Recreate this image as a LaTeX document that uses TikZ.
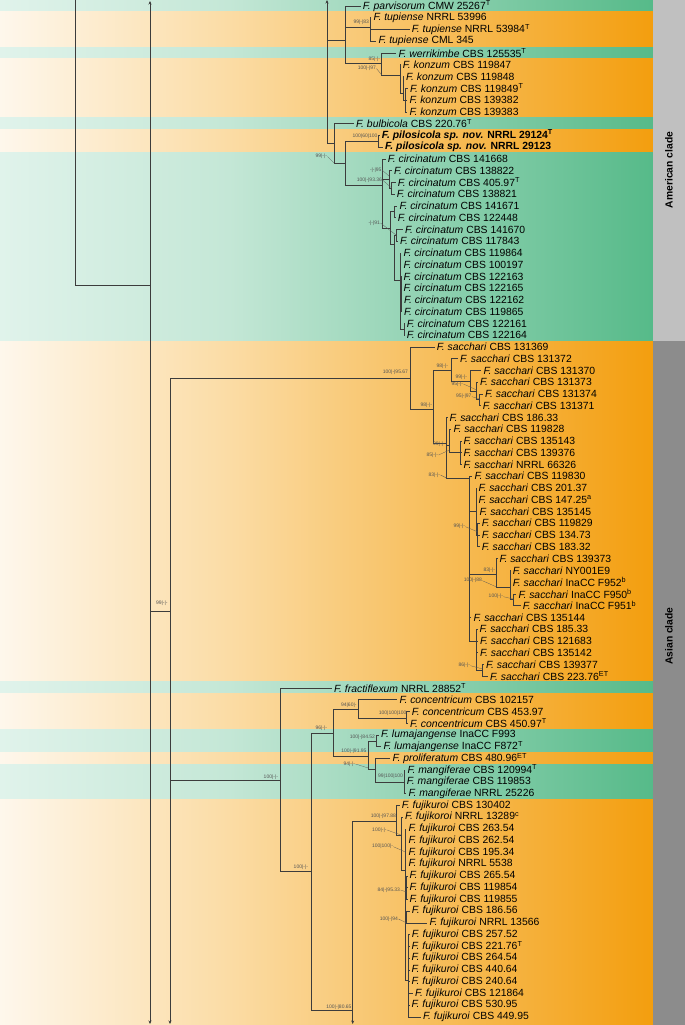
\documentclass[tikz,border=0pt]{standalone}
\usepackage{fontspec}
\setmainfont{Liberation Sans}
\usetikzlibrary{arrows.meta}
\definecolor{gL}{RGB}{224,243,235}
\definecolor{gM}{RGB}{196,231,214}
\definecolor{gR}{RGB}{86,186,137}
\definecolor{oL}{RGB}{254,247,236}
\definecolor{oM}{RGB}{251,220,165}
\definecolor{oR}{RGB}{243,158,14}
\definecolor{brc}{RGB}{60,60,60}
\definecolor{spc}{RGB}{85,85,85}
\definecolor{grA}{RGB}{192,192,192}
\definecolor{grB}{RGB}{140,140,140}
\pgfdeclarehorizontalshading{gsh}{100bp}{color(0bp)=(gL); color(25bp)=(gL); color(42.5bp)=(gM); color(75bp)=(gR); color(100bp)=(gR)}
\pgfdeclarehorizontalshading{osh}{100bp}{color(0bp)=(oL); color(25bp)=(oL); color(42.5bp)=(oM); color(75bp)=(oR); color(100bp)=(oR)}
\newcommand{\Y}[1]{(6+(#1-1)*11.756)}
\newcommand{\Fi}[1]{\textit{F.\ #1}}
\newcommand{\lfn}[3]{\node[lf] (l#1) at ({#2-2},{\Y{#1}}) {#3};}
\newcommand{\kids}[2]{\foreach \kk in {#2}{\draw[br] (#1) |- (\kk);}}
\newcommand{\bs}[4]{\node[sp,anchor=east] (#1) at (#2,#3) {#4};}
\newcommand{\band}[3]{\fill[shading=#1] (0,{\Y{#2}-5.878}) rectangle (653,{\Y{#3}+5.878});}
\tikzset{
 br/.style={draw=brc, line width=0.6pt},
 lf/.style={anchor=west, inner xsep=2pt, inner ysep=0pt, font=\fontsize{10.4}{11}\selectfont, text=black},
 sp/.style={font=\fontsize{5}{6}\selectfont, text=spc, inner sep=0.3pt},
 ldr/.style={draw=spc, line width=0.25pt},
 arr/.style={br, -{Stealth[length=3.5pt,width=3pt]}},
}
\begin{document}
\begin{tikzpicture}[x=1pt,y=-1pt]
\useasboundingbox (0,0) rectangle (685,1025);
% bands
\fill[shading=gsh] (0,0) rectangle (653,{\Y{1}+5.878});
\band{osh}{2}{4}
\band{gsh}{5}{5}
\band{osh}{6}{10}
\band{gsh}{11}{11}
\band{osh}{12}{13}
\band{gsh}{14}{29}
\band{osh}{30}{58}
\band{gsh}{59}{59}
\band{osh}{60}{62}
\band{gsh}{63}{64}
\band{osh}{65}{65}
\band{gsh}{66}{68}
\fill[shading=osh] (0,{\Y{69}-5.878}) rectangle (653,1025);
% clade bars
\fill[grA] (653,0) rectangle (685,340.9);
\fill[grB] (653,341.3) rectangle (685,1025);
\node[rotate=90, font=\bfseries\fontsize{10.3}{12}\selectfont] (am) at (669,170) {American clade};
\node[rotate=90, font=\bfseries\fontsize{10.3}{12}\selectfont] (as) at (669,636) {Asian clade};
% leaves
\lfn{1}{362.7}{\Fi{parvisorum} CMW 25267\textsuperscript{T}}
\lfn{2}{373.3}{\Fi{tupiense} NRRL 53996}
\lfn{3}{411.7}{\Fi{tupiense} NRRL 53984\textsuperscript{T}}
\lfn{4}{378.3}{\Fi{tupiense} CML 345}
\lfn{5}{398.3}{\Fi{werrikimbe} CBS 125535\textsuperscript{T}}
\lfn{6}{402.7}{\Fi{konzum} CBS 119847}
\lfn{7}{406}{\Fi{konzum} CBS 119848}
\lfn{8}{410}{\Fi{konzum} CBS 119849\textsuperscript{T}}
\lfn{9}{409.3}{\Fi{konzum} CBS 139382}
\lfn{10}{409.3}{\Fi{konzum} CBS 139383}
\lfn{11}{356}{\Fi{bulbicola} CBS 220.76\textsuperscript{T}}
\lfn{12}{381.7}{\textbf{\Fi{pilosicola sp. nov.} NRRL 29124\textsuperscript{T}}}
\lfn{13}{385}{\textbf{\Fi{pilosicola sp. nov.} NRRL 29123}}
\lfn{14}{387.7}{\Fi{circinatum} CBS 141668}
\lfn{15}{394}{\Fi{circinatum} CBS 138822}
\lfn{16}{397.7}{\Fi{circinatum} CBS 405.97\textsuperscript{T}}
\lfn{17}{396.7}{\Fi{circinatum} CBS 138821}
\lfn{18}{399.3}{\Fi{circinatum} CBS 141671}
\lfn{19}{397.7}{\Fi{circinatum} CBS 122448}
\lfn{20}{405}{\Fi{circinatum} CBS 141670}
\lfn{21}{400}{\Fi{circinatum} CBS 117843}
\lfn{22}{403.3}{\Fi{circinatum} CBS 119864}
\lfn{23}{403.3}{\Fi{circinatum} CBS 100197}
\lfn{24}{403.3}{\Fi{circinatum} CBS 122163}
\lfn{25}{403.3}{\Fi{circinatum} CBS 122165}
\lfn{26}{404}{\Fi{circinatum} CBS 122162}
\lfn{27}{404}{\Fi{circinatum} CBS 119865}
\lfn{28}{406.7}{\Fi{circinatum} CBS 122161}
\lfn{29}{406.7}{\Fi{circinatum} CBS 122164}
\lfn{30}{436.7}{\Fi{sacchari} CBS 131369}
\lfn{31}{460}{\Fi{sacchari} CBS 131372}
\lfn{32}{483.3}{\Fi{sacchari} CBS 131370}
\lfn{33}{480}{\Fi{sacchari} CBS 131373}
\lfn{34}{485}{\Fi{sacchari} CBS 131374}
\lfn{35}{482.7}{\Fi{sacchari} CBS 131371}
\lfn{36}{449.3}{\Fi{sacchari} CBS 186.33}
\lfn{37}{453.3}{\Fi{sacchari} CBS 119828}
\lfn{38}{463.3}{\Fi{sacchari} CBS 135143}
\lfn{39}{463.3}{\Fi{sacchari} CBS 139376}
\lfn{40}{463.3}{\Fi{sacchari} NRRL 66326}
\lfn{41}{474.3}{\Fi{sacchari} CBS 119830}
\lfn{42}{478.3}{\Fi{sacchari} CBS 201.37}
\lfn{43}{478.3}{\Fi{sacchari} CBS 147.25\textsuperscript{a}}
\lfn{44}{479.3}{\Fi{sacchari} CBS 135145}
\lfn{45}{481.7}{\Fi{sacchari} CBS 119829}
\lfn{46}{481.7}{\Fi{sacchari} CBS 134.73}
\lfn{47}{481.7}{\Fi{sacchari} CBS 183.32}
\lfn{48}{499.3}{\Fi{sacchari} CBS 139373}
\lfn{49}{512.7}{\Fi{sacchari} NY001E9}
\lfn{50}{512.7}{\Fi{sacchari} InaCC F952\textsuperscript{b}}
\lfn{51}{518.3}{\Fi{sacchari} InaCC F950\textsuperscript{b}}
\lfn{52}{522.7}{\Fi{sacchari} InaCC F951\textsuperscript{b}}
\lfn{53}{473.3}{\Fi{sacchari} CBS 135144}
\lfn{54}{479.3}{\Fi{sacchari} CBS 185.33}
\lfn{55}{480}{\Fi{sacchari} CBS 121683}
\lfn{56}{480}{\Fi{sacchari} CBS 135142}
\lfn{57}{486}{\Fi{sacchari} CBS 139377}
\lfn{58}{490}{\Fi{sacchari} CBS 223.76\textsuperscript{ET}}
\lfn{59}{334}{\Fi{fractiflexum} NRRL 28852\textsuperscript{T}}
\lfn{60}{399.3}{\Fi{concentricum} CBS 102157}
\lfn{61}{411.7}{\Fi{concentricum} CBS 453.97}
\lfn{62}{410}{\Fi{concentricum} CBS 450.97\textsuperscript{T}}
\lfn{63}{381}{\Fi{lumajangense} InaCC F993}
\lfn{64}{383.3}{\Fi{lumajangense} InaCC F872\textsuperscript{T}}
\lfn{65}{392.3}{\Fi{proliferatum} CBS 480.96\textsuperscript{ET}}
\lfn{66}{407.3}{\Fi{mangiferae} CBS 120994\textsuperscript{T}}
\lfn{67}{406.7}{\Fi{mangiferae} CBS 119853}
\lfn{68}{408.3}{\Fi{mangiferae} NRRL 25226}
\lfn{69}{401.7}{\Fi{fujikuroi} CBS 130402}
\lfn{70}{405}{\Fi{fujikoroi} NRRL 13289\textsuperscript{c}}
\lfn{71}{408.3}{\Fi{fujikuroi} CBS 263.54}
\lfn{72}{408.3}{\Fi{fujikuroi} CBS 262.54}
\lfn{73}{408.3}{\Fi{fujikuroi} CBS 195.34}
\lfn{74}{408.3}{\Fi{fujikuroi} NRRL 5538}
\lfn{75}{409.3}{\Fi{fujikuroi} CBS 265.54}
\lfn{76}{409.3}{\Fi{fujikuroi} CBS 119854}
\lfn{77}{409.3}{\Fi{fujikuroi} CBS 119855}
\lfn{78}{411.7}{\Fi{fujikuroi} CBS 186.56}
\lfn{79}{429.3}{\Fi{fujikuroi} NRRL 13566}
\lfn{80}{411.7}{\Fi{fujikuroi} CBS 257.52}
\lfn{81}{411.5}{\Fi{fujikuroi} CBS 221.76\textsuperscript{T}}
\lfn{82}{411.5}{\Fi{fujikuroi} CBS 264.54}
\lfn{83}{411.5}{\Fi{fujikuroi} CBS 440.64}
\lfn{84}{411.5}{\Fi{fujikuroi} CBS 240.64}
\lfn{85}{415}{\Fi{fujikuroi} CBS 121864}
\lfn{86}{411.5}{\Fi{fujikuroi} CBS 530.95}
\lfn{87}{422.9}{\Fi{fujikuroi} CBS 449.95}
% internal nodes
\coordinate (nAt) at (327,0); \coordinate (nAm) at (327,40); \coordinate (nA) at (327,143);
\coordinate (nB) at (345,40); \coordinate (nT) at (370,27); \coordinate (nC) at (381.7,63.3);
\coordinate (nD) at (400,75); \coordinate (nD2) at (403.3,93); \coordinate (nD3) at (405.7,100);
\coordinate (nG) at (334.3,143); \coordinate (nE) at (345,163); \coordinate (nP) at (378.3,141);
\coordinate (nF) at (382.7,185); \coordinate (nF2) at (389,179); \coordinate (nF3) at (391.7,188);
\coordinate (nH) at (390,228); \coordinate (nH1) at (394.3,211.7); \coordinate (nH2) at (394.3,244);
\coordinate (nH3) at (396.7,235); \coordinate (nH4) at (400,280); \coordinate (nH5) at (401,294);
\coordinate (nH6) at (404,329);
\coordinate (v75t) at (75,0); \coordinate (v150a) at (150,285);
\coordinate (v150t) at (150,1); \coordinate (v150m) at (150,611); \coordinate (v150b) at (150,1024);
\coordinate (nK) at (170,611); \coordinate (nKb) at (170,1024);
\coordinate (nSac) at (410,378.3); \coordinate (nSa1) at (433.3,409); \coordinate (nSa2) at (451.7,370);
\coordinate (nSa3) at (470,381); \coordinate (nSa4) at (476.7,391); \coordinate (nSa5) at (479.5,399.2);
\coordinate (nSaB) at (446.5,443); \coordinate (nSaC) at (449.5,445); \coordinate (nSaD) at (460.7,452.5);
\coordinate (nSaE) at (469.3,478); \coordinate (nSaG) at (476,511); \coordinate (nSaH) at (477.3,535);
\coordinate (nSaI) at (496.7,574); \coordinate (nSaJ) at (510,587); \coordinate (nSaK) at (513.3,599);
\coordinate (nSaL) at (476.5,641.7); \coordinate (nSaM) at (482.7,670);
\coordinate (nS) at (280,780); \coordinate (nR) at (311,871.7); \coordinate (nQ) at (333.3,733.3);
\coordinate (nCo) at (358.3,709.3); \coordinate (nCo2) at (406,718.3); \coordinate (nLu) at (368.3,756);
\coordinate (nLu2) at (376,741.7); \coordinate (nPM) at (375.7,769); \coordinate (nMa) at (404,782);
\coordinate (nFu) at (352.7,1010); \coordinate (nFub) at (352.7,1024); \coordinate (nFu1) at (396.7,821);
\coordinate (nFu2) at (401,835); \coordinate (nFu3) at (405.3,870); \coordinate (nFu5) at (406.5,892);
\coordinate (nFu6) at (406.7,917); \coordinate (nFu4) at (408.5,980);
% connectors
\draw[arr] (nAm) -- (nAt);
\kids{nA}{nB,nG}
\kids{nB}{l1.west,nT,nC}
\kids{nT}{l2.west,l3.west,l4.west}
\kids{nC}{l5.west,nD}
\kids{nD}{l6.west,nD2}
\kids{nD2}{l7.west,nD3}
\kids{nD3}{l8.west,l9.west,l10.west}
\kids{nG}{l11.west,nE}
\kids{nE}{nP,nF}
\kids{nP}{l12.west,l13.west}
\kids{nF}{l14.west,nF2,nH}
\kids{nF2}{l15.west,nF3}
\kids{nF3}{l16.west,l17.west}
\kids{nH}{nH1,nH2}
\kids{nH1}{l18.west,l19.west}
\kids{nH2}{nH3,nH4}
\kids{nH3}{l20.west,l21.west}
\kids{nH4}{l22.west,l23.west,nH5,nH6}
\kids{nH5}{l24.west,l25.west,l26.west,l27.west}
\kids{nH6}{l28.west,l29.west}
\draw[br] (v75t) |- (v150a);
\draw[arr] (v150m) -- (v150t);
\draw[arr] (v150m) -- (v150b);
\draw[br] (v150m) -- (nK);
\draw[arr] (nK) -- (nKb);
\kids{nK}{nSac,nS}
\kids{nSac}{l30.west,nSa1}
\kids{nSa1}{nSa2,nSaB}
\kids{nSa2}{l31.west,nSa3}
\kids{nSa3}{l32.west,nSa4}
\kids{nSa4}{l33.west,nSa5}
\kids{nSa5}{l34.west,l35.west}
\kids{nSaB}{l36.west,nSaC,nSaE}
\kids{nSaC}{l37.west,nSaD}
\kids{nSaD}{l38.west,l39.west,l40.west}
\kids{nSaE}{l41.west,nSaG,nSaI,l53.west,nSaL}
\kids{nSaG}{l42.west,l43.west,l44.west,nSaH}
\kids{nSaH}{l45.west,l46.west,l47.west}
\kids{nSaI}{l48.west,nSaJ}
\kids{nSaJ}{l49.west,l50.west,nSaK}
\kids{nSaK}{l51.west,l52.west}
\kids{nSaL}{l54.west,l55.west,l56.west,nSaM}
\kids{nSaM}{l57.west,l58.west}
\kids{nS}{l59.west,nR}
\kids{nR}{nQ,nFu}
\kids{nQ}{nCo,nLu}
\kids{nCo}{l60.west,nCo2}
\kids{nCo2}{l61.west,l62.west}
\kids{nLu}{nLu2,nPM}
\kids{nLu2}{l63.west,l64.west}
\kids{nPM}{l65.west,nMa}
\kids{nMa}{l66.west,l67.west,l68.west}
\draw[arr] (nFu) -- (nFub);
\kids{nFu}{nFu1}
\kids{nFu1}{l69.west,nFu2}
\kids{nFu2}{l70.west,nFu3}
\kids{nFu3}{l71.west,l72.west,l73.west,l74.west,nFu5,nFu6,nFu4}
\kids{nFu5}{l75.west,l76.west,l77.west}
\kids{nFu6}{l78.west,l79.west}
\kids{nFu4}{l80.west,l81.west,l82.west,l83.west,l84.west,l85.west,l86.west,l87.west}
% support values
\bs{s1}{369.5}{22.5}{99|-|83}
\bs{s2}{380.5}{59.5}{85|-|-}
\bs{s3}{376.5}{68.5}{100|-|97}
\bs{s4}{378}{136.5}{100|60|100}
\bs{s5}{327.5}{156.5}{99|-|-}
\bs{s6}{382}{170}{-|-|95}
\bs{s7}{382.5}{180}{100|-|93.36}
\bs{s8}{380.5}{223}{-|-|91}
\bs{s9}{408.5}{372.3}{100|-|95.67}
\bs{s10}{448.5}{366.7}{98|-|-}
\bs{s11}{467.5}{377.7}{99|-|-}
\bs{s12}{463.5}{384}{95|-|-}
\bs{s13}{472}{396.7}{95|-|97}
\bs{s14}{432.5}{405.7}{98|-|-}
\bs{s15}{445}{444.3}{99|-|-}
\bs{s16}{438.5}{455}{85|-|-}
\bs{s17}{440.5}{475}{83|-|-}
\bs{s18}{465.5}{526.7}{99|-|-}
\bs{s19}{495.5}{570.7}{83|-|-}
\bs{s20}{482.5}{580.7}{100|-|88}
\bs{s21}{503.5}{596.7}{100|-|-}
\bs{s22}{470.5}{665.7}{86|-|-}
\bs{s23}{357}{705}{94|60|-}
\bs{s24}{407}{713.3}{100|100|100}
\bs{s25}{327.5}{728}{96|-|-}
\bs{s26}{375.5}{737}{100|-|84.52}
\bs{s27}{367}{751.7}{100|-|91.95}
\bs{s28}{355.5}{764}{94|-|-}
\bs{s29}{403.5}{776.7}{99|100|100}
\bs{s30}{278.5}{777}{100|-|-}
\bs{s31}{396.5}{816.7}{100|-|97.88}
\bs{s32}{387}{830}{100|-|-}
\bs{s33}{393.5}{846.7}{100|100|-}
\bs{s34}{308.5}{867.7}{100|-|-}
\bs{s35}{400.5}{890}{84|-|95.33}
\bs{s36}{398.5}{919}{100|-|94}
\bs{s37}{352}{1007}{100|-|80.65}
\bs{s38}{168}{603}{99|-|-}
% leader targets
\coordinate (t3) at (381.7,75); \coordinate (t5) at (334.3,163.3); \coordinate (t6) at (389,176);
\coordinate (t7) at (391.7,188); \coordinate (t8) at (396,235); \coordinate (t12) at (476.7,390);
\coordinate (t13) at (479.5,399); \coordinate (t16) at (449.5,450); \coordinate (t17) at (446.5,478);
\coordinate (t18) at (477.3,531.7); \coordinate (t20) at (496.7,587); \coordinate (t21) at (513.3,599);
\coordinate (t22) at (482.7,669); \coordinate (t28) at (368.3,768); \coordinate (t32) at (401,835);
\coordinate (t33) at (405.3,852); \coordinate (t35) at (406.5,892); \coordinate (t36) at (406.7,923);
\foreach \a/\b in {s3/t3,s5/t5,s6/t6,s7/t7,s8/t8,s12/t12,s13/t13,s16/t16,s17/t17,s18/t18,s20/t20,s21/t21,s22/t22,s28/t28,s32/t32,s33/t33,s35/t35,s36/t36}
  \draw[ldr] (\a.east) -- (\b);
\end{tikzpicture}
\end{document}
